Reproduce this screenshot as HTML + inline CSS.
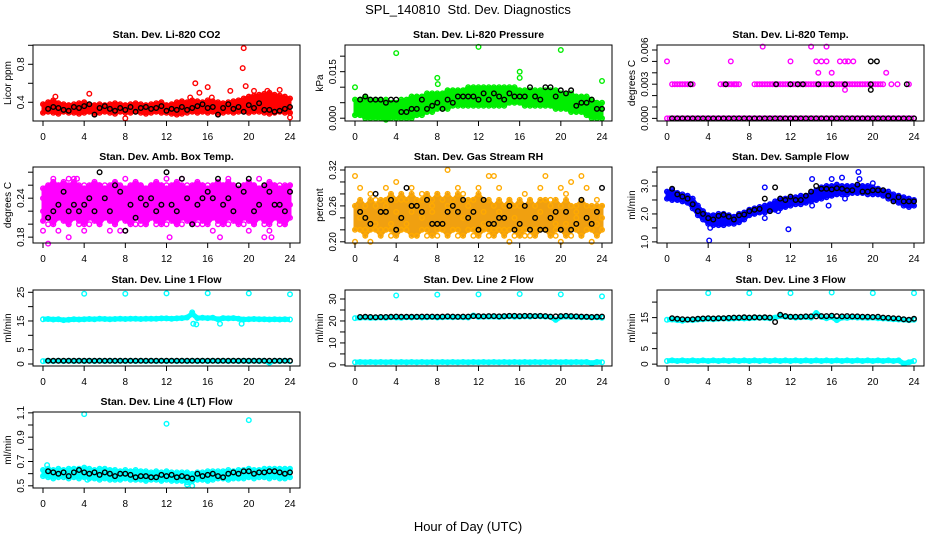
<!DOCTYPE html>
<html><head><meta charset="utf-8"><style>
html,body{margin:0;padding:0;background:#fff;}
svg{display:block;font-family:"Liberation Sans",sans-serif;}
</style></head><body>
<svg id="c" width="936" height="540" viewBox="0 0 936 540">
<rect width="936" height="540" fill="#fff"/>
<text x="468" y="14" font-size="13" text-anchor="middle" style="white-space:pre">SPL_140810  Std. Dev. Diagnostics</text>
<text x="468" y="531" font-size="13" text-anchor="middle">Hour of Day (UTC)</text>
</svg>
<script>
// ---- data (values per half hour / scattered readings) ----
const xTicks=[0,4,8,12,16,20,24];
const co2Lo=[0.29,0.30,0.29,0.28,0.30,0.29,0.29,0.28,0.29,0.30,0.28,0.29,0.30,0.29,0.28,0.30,0.29,0.29,0.30,0.29,0.28,0.29,0.30,0.29,0.29,0.28,0.27,0.28,0.29,0.30,0.29,0.30,0.29,0.30,0.28,0.29,0.30,0.29,0.30,0.30,0.29,0.30,0.30,0.29,0.28,0.29,0.30,0.29,0.29];
const co2Hi=[0.38,0.40,0.42,0.39,0.38,0.37,0.38,0.39,0.40,0.38,0.37,0.38,0.37,0.38,0.39,0.38,0.37,0.38,0.39,0.38,0.37,0.38,0.39,0.40,0.37,0.38,0.40,0.41,0.40,0.42,0.41,0.40,0.42,0.41,0.40,0.39,0.40,0.41,0.42,0.44,0.46,0.47,0.48,0.49,0.50,0.48,0.47,0.46,0.44];
const co2Blk=[0.33,0.35,0.34,0.32,0.31,0.35,0.34,0.36,0.38,0.27,0.34,0.36,0.33,0.31,0.34,0.32,0.35,0.30,0.34,0.35,0.33,0.34,0.36,0.31,0.33,0.32,0.35,0.32,0.34,0.36,0.38,0.34,0.35,0.27,0.34,0.38,0.33,0.35,0.30,0.37,0.34,0.39,0.32,0.32,0.30,0.31,0.33,0.35];
const co2Out=[[19.5,0.97],[19.4,0.76],[19.7,0.57],[4.5,0.49],[14.8,0.60],[16,0.56],[8,0.23],[24,0.24],[23,0.53],[18.2,0.52],[15.2,0.50],[20.5,0.52],[21.8,0.52],[1.2,0.46],[14.3,0.45],[16.4,0.45]];
const prLo=[0.001,0.001,0.000,0.000,0.000,0.000,-0.0005,0.000,0.000,0.000,0.000,0.000,0.001,0.001,0.002,0.002,0.003,0.003,0.003,0.004,0.004,0.004,0.004,0.004,0.004,0.004,0.004,0.004,0.004,0.004,0.005,0.005,0.005,0.004,0.004,0.004,0.004,0.004,0.004,0.003,0.003,0.003,0.002,0.002,0.002,0.001,0.000,0.000,0.000];
const prHi=[0.006,0.006,0.007,0.006,0.006,0.006,0.006,0.005,0.005,0.006,0.006,0.007,0.007,0.007,0.008,0.008,0.008,0.008,0.009,0.009,0.009,0.009,0.010,0.010,0.010,0.010,0.010,0.010,0.010,0.010,0.010,0.010,0.009,0.009,0.009,0.009,0.009,0.009,0.009,0.009,0.008,0.008,0.008,0.007,0.007,0.007,0.006,0.005,0.005];
const prBlk=[0.006,0.007,0.006,0.006,0.006,0.005,0.006,0.006,0.002,0.002,0.003,0.003,0.006,0.003,0.004,0.005,0.003,0.006,0.005,0.007,0.007,0.007,0.007,0.006,0.008,0.006,0.008,0.007,0.006,0.008,0.007,0.007,0.007,0.010,0.007,0.006,0.010,0.010,0.007,0.009,0.008,0.009,0.004,0.005,0.005,0.006,0.003,0.003];
const prOut=[[0,0.010],[4,0.021],[8,0.013],[8.05,0.011],[12,0.023],[16,0.015],[16,0.013],[20,0.022],[24,0.012]];
const tmpLo=[0,0,0,0,0,0,0,0,0,0,0,0,0,0,0,0,0,0,0,0,0,0,0,0,0,0,0,0,0,0,0,0,0,0,0,0,0,0,0,0,0,0,0,0,0,0,0,0,0];
const tmpHi=[null,0.003,0.003,0.003,0.003,0.003,null,null,null,null,null,0.003,0.003,0.003,0.003,null,null,0.003,0.003,0.003,0.003,0.003,0.003,0.003,0.003,0.003,0.003,0.003,0.003,0.003,0.003,0.003,0.003,0.003,0.003,0.003,0.003,0.003,0.003,0.003,0.003,0.003,0.003,null,null,null,null,0.003,null];
const tmpBlk=[0,0,0,0,0,0,0,0,0,0,0,0,0,0,0,0,0,0,0,0,0,0,0,0,0,0,0,0,0,0,0,0,0,0,0,0,0,0,0,0,0,0,0,0,0,0,0,0];
const tmpBlkOut=[[2.3,0.003],[5.7,0.003],[10.6,0.003],[12,0.003],[12.7,0.003],[13.2,0.003],[14.7,0.003],[16,0.003],[17.3,0.003],[19.8,0.003],[23.3,0.003],[19.8,0.0025],[19.8,0.005],[20.4,0.005]];
const tmpOut=[[0,0.005],[6.2,0.005],[9.3,0.0063],[12,0.005],[14,0.0063],[15.5,0.0063],[14.7,0.004],[16,0.004],[14.5,0.005],[15,0.005],[15.5,0.005],[16.8,0.005],[17.3,0.005],[17.6,0.005],[18.1,0.005],[17.3,0.0025],[21.3,0.004],[5.2,0.003],[6.6,0.003],[21.8,0.003],[22.4,0.003]];
const ambLo=[0.205,0.21,0.20,0.21,0.205,0.20,0.21,0.205,0.20,0.21,0.205,0.20,0.21,0.205,0.20,0.21,0.205,0.20,0.21,0.205,0.20,0.21,0.205,0.20,0.21,0.205,0.20,0.21,0.205,0.20,0.21,0.205,0.20,0.21,0.205,0.20,0.21,0.205,0.20,0.21,0.205,0.20,0.21,0.205,0.20,0.21,0.205,0.20,0.21];
const ambHi=[0.255,0.26,0.265,0.26,0.265,0.26,0.265,0.26,0.255,0.26,0.265,0.26,0.255,0.26,0.265,0.26,0.255,0.26,0.265,0.26,0.255,0.26,0.265,0.26,0.255,0.26,0.265,0.26,0.255,0.26,0.265,0.26,0.255,0.26,0.265,0.26,0.265,0.26,0.255,0.26,0.265,0.26,0.255,0.26,0.265,0.26,0.255,0.26,0.26];
const ambA=[0.22,0.25,0.21,0.26,0.23,0.20,0.27,0.24,0.22,0.25,0.21,0.26,0.23,0.19,0.25,0.22,0.27,0.21,0.24,0.26,0.20,0.23,0.25,0.22,0.26,0.21,0.24,0.27,0.22,0.25,0.20,0.23,0.26,0.22,0.24,0.21,0.27,0.23,0.25,0.20,0.24,0.26,0.22,0.25,0.21,0.23,0.26,0.22,0.25];
const ambB=[0.24,0.20,0.26,0.22,0.25,0.24,0.21,0.22,0.26,0.20,0.24,0.23,0.26,0.22,0.20,0.25,0.23,0.25,0.20,0.22,0.24,0.26,0.21,0.24,0.23,0.25,0.20,0.23,0.26,0.21,0.24,0.26,0.21,0.25,0.20,0.24,0.22,0.26,0.21,0.24,0.22,0.20,0.25,0.21,0.24,0.26,0.20,0.24,0.23];
const ambC=[0.19,0.23,0.24,0.19,0.21,0.27,0.23,0.20,0.19,0.23,0.26,0.20,0.22,0.25,0.23,0.19,0.21,0.24,0.26,0.20,0.23,0.21,0.20,0.26,0.20,0.23,0.25,0.20,0.21,0.23,0.26,0.20,0.24,0.19,0.22,0.26,0.20,0.22,0.23,0.26,0.19,0.23,0.27,0.20,0.19,0.22,0.23,0.20,0.26];
const ambBlk=[0.21,0.22,0.23,0.25,0.22,0.23,0.22,0.23,0.24,0.22,0.28,0.24,0.22,0.26,0.25,0.19,0.23,0.21,0.24,0.23,0.24,0.22,0.23,0.28,0.23,0.22,0.27,0.24,0.20,0.23,0.24,0.25,0.24,0.27,0.23,0.24,0.22,0.26,0.25,0.27,0.22,0.23,0.26,0.25,0.23,0.23,0.22,0.25];
const ambOut=[[0.5,0.17],[2.5,0.18],[4,0.21],[12.3,0.18],[17.2,0.18],[22.2,0.18],[21.5,0.18],[8,0.19],[1,0.27],[3.3,0.27],[5.4,0.26],[12,0.27]];
const rhLo=[0.22,0.22,0.21,0.22,0.22,0.21,0.22,0.22,0.21,0.22,0.22,0.21,0.21,0.22,0.22,0.21,0.22,0.22,0.21,0.22,0.22,0.21,0.22,0.22,0.21,0.22,0.22,0.21,0.22,0.21,0.22,0.22,0.21,0.22,0.22,0.21,0.22,0.22,0.21,0.22,0.22,0.21,0.22,0.22,0.21,0.22,0.22,0.21,0.22];
const rhHi=[0.26,0.27,0.26,0.27,0.26,0.27,0.27,0.28,0.27,0.28,0.27,0.28,0.27,0.27,0.28,0.27,0.28,0.27,0.28,0.27,0.28,0.27,0.27,0.27,0.28,0.27,0.27,0.26,0.27,0.26,0.27,0.26,0.27,0.26,0.27,0.26,0.27,0.27,0.26,0.27,0.26,0.27,0.26,0.26,0.27,0.26,0.26,0.26,0.26];
const rhA=[0.31,0.29,0.22,0.28,0.27,0.25,0.29,0.23,0.30,0.27,0.22,0.29,0.26,0.28,0.21,0.26,0.28,0.23,0.32,0.26,0.29,0.28,0.22,0.27,0.29,0.23,0.31,0.31,0.29,0.24,0.27,0.21,0.22,0.28,0.27,0.24,0.29,0.31,0.27,0.23,0.29,0.28,0.30,0.24,0.31,0.29,0.23,0.27,0.26];
const rhB=[0.20,0.24,0.26,0.20,0.23,0.22,0.26,0.21,0.25,0.22,0.23,0.25,0.21,0.24,0.22,0.25,0.21,0.23,0.26,0.22,0.21,0.24,0.26,0.21,0.22,0.25,0.21,0.22,0.25,0.22,0.20,0.24,0.26,0.21,0.21,0.22,0.25,0.22,0.24,0.21,0.20,0.23,0.21,0.25,0.21,0.22,0.20,0.23,0.24];
const rhBlk=[0.25,0.24,0.23,0.28,0.25,0.25,0.27,0.22,0.24,0.29,0.26,0.26,0.25,0.27,0.23,0.23,0.23,0.25,0.26,0.25,0.27,0.24,0.25,0.22,0.27,0.23,0.23,0.24,0.24,0.26,0.22,0.23,0.26,0.22,0.24,0.22,0.22,0.24,0.25,0.22,0.25,0.22,0.23,0.27,0.24,0.23,0.25,0.29];
const flLo=[2.55,2.50,2.50,2.45,2.40,2.20,1.95,1.80,1.65,1.60,1.60,1.60,1.65,1.65,1.70,1.80,1.95,2.00,2.05,2.05,2.10,2.15,2.20,2.25,2.30,2.35,2.35,2.40,2.45,2.50,2.55,2.60,2.65,2.70,2.70,2.70,2.75,2.75,2.75,2.70,2.70,2.70,2.65,2.55,2.50,2.40,2.30,2.25,2.30];
const flHi=[2.80,2.85,2.75,2.70,2.65,2.55,2.30,2.10,1.95,1.95,2.00,2.00,1.95,1.90,2.00,2.05,2.15,2.20,2.25,2.30,2.35,2.45,2.55,2.55,2.60,2.60,2.65,2.65,2.75,2.85,2.95,3.00,3.00,3.05,3.00,3.00,3.00,3.00,3.00,3.00,2.95,2.90,2.85,2.80,2.70,2.65,2.60,2.55,2.50];
const flBlk=[2.90,2.70,2.62,2.55,2.35,2.10,2.00,1.85,1.80,1.93,1.97,1.90,1.80,1.95,1.98,2.10,2.15,2.18,2.55,2.10,2.95,2.55,2.50,2.62,2.50,2.50,2.65,2.80,3.00,2.90,2.90,2.88,2.92,2.90,2.85,2.85,3.05,2.80,2.80,2.85,2.85,2.85,2.65,2.45,2.60,2.45,2.45,2.45];
const flOut=[[4.1,1.05],[4.2,1.5],[11.8,1.45],[9.5,1.85],[9.5,2.95],[14.1,3.25],[16,3.25],[17,3.3],[18.6,3.5],[18.7,3.25],[15.7,2.3],[14.1,2.3],[20,3.1],[17.3,2.55],[10.8,2.1]];
const l1Band=[15.6,15.7,15.5,15.6,15.3,15.4,15.6,15.5,15.6,15.7,15.6,15.8,15.7,15.6,15.7,15.8,15.7,15.8,15.8,15.7,15.8,15.8,15.8,15.9,15.9,15.8,15.9,16.0,16.2,17.5,16.0,16.1,16.0,16.1,15.6,16.0,15.9,16.0,15.8,15.5,15.6,15.7,15.6,15.6,15.5,15.6,15.5,15.6,15.5];
const l1Low=[1.0,1.1,1.0,1.1,1.0,1.1,1.0,1.1,1.0,1.1,1.0,1.1,1.0,1.1,1.0,1.1,1.0,1.1,1.0,1.1,1.0,1.1,1.0,1.1,1.0,1.1,1.0,1.1,1.0,1.1,1.0,1.1,1.0,1.1,1.0,1.1,1.0,1.1,1.0,1.1,1.0,1.1,1.0,1.1,0.5,1.1,1.0,1.1,1.0];
const l1Blk=[1.1,1.1,1.1,1.1,1.1,1.1,1.1,1.1,1.1,1.1,1.1,1.1,1.1,1.1,1.1,1.1,1.1,1.1,1.1,1.1,1.1,1.1,1.1,1.1,1.1,1.1,1.1,1.1,1.1,1.1,1.1,1.1,1.1,1.1,1.1,1.1,1.1,1.1,1.1,1.1,1.1,1.1,1.1,1.1,1.1,1.1,1.1,1.1];
const l1Out=[[4,24.5],[8,24.5],[12,24.6],[16,24.7],[20,24.6],[24,24.3],[14.5,18],[14.6,14],[14.9,13.8],[17.2,14],[19.3,14]];
const l2Band=[21.3,21.5,21.6,21.4,21.5,21.6,21.5,21.7,21.6,21.5,21.7,21.6,21.8,21.6,21.7,21.8,21.6,21.7,21.8,21.7,21.8,21.7,21.6,22.5,21.8,22.0,21.9,22.0,21.8,22.0,22.1,21.9,22.0,22.1,22.0,22.2,22.1,22.0,21.9,20.5,21.8,22.0,21.8,21.9,21.7,21.8,21.6,21.7,21.5];
const l2Low=[1.2,1.3,1.2,1.3,1.2,1.3,1.2,1.3,1.2,1.3,1.2,1.3,1.2,1.3,1.2,1.3,1.2,1.3,1.2,1.3,1.2,1.3,1.2,1.3,1.2,1.3,1.2,1.3,1.2,1.3,1.2,1.3,1.2,1.3,1.2,1.3,1.2,1.3,1.2,1.3,1.2,1.3,1.2,1.3,1.2,1.3,0.8,1.3,1.2];
const l2Blk=[21.8,21.9,21.8,21.7,21.8,21.8,21.9,22.0,21.9,21.9,21.9,21.9,22.0,22.0,22.0,21.9,22.0,22.1,22.0,21.9,22.0,22.0,22.2,22.2,22.1,22.2,22.2,22.1,22.2,22.3,22.3,22.2,22.3,22.3,22.2,22.3,22.2,22.0,22.1,22.2,22.3,22.2,22.1,22.0,21.9,21.8,21.9,22.0];
const l2Out=[[4,31.6],[8,32.0],[12,32.1],[16,32.3],[20,32.1],[24,31.2]];
const l3Band=[14.3,14.4,14.2,14.0,14.3,14.2,14.4,14.5,14.6,14.5,14.6,14.7,14.6,14.7,14.8,14.7,14.8,14.9,15.0,14.9,14.8,15.0,15.5,15.3,15.2,15.0,15.1,15.2,15.0,16.5,15.2,14.8,15.2,14.2,15.0,14.9,15.1,15.0,15.0,14.9,15.0,14.8,14.7,14.6,14.5,14.4,14.3,14.2,14.3];
const l3Low=[1.0,1.2,1.0,1.2,1.0,1.2,1.0,1.2,1.0,1.2,1.0,1.2,1.0,1.2,1.0,1.2,1.0,1.2,1.0,1.2,1.0,1.2,1.0,1.2,1.0,1.2,1.0,1.2,1.0,1.2,1.0,1.2,1.0,1.2,1.0,1.2,1.0,1.2,1.0,1.2,1.0,1.2,1.0,1.2,1.0,1.2,0.2,0.6,1.0];
const l3Blk=[14.8,14.6,14.5,14.4,14.5,14.6,14.7,14.8,14.7,14.8,14.8,14.9,15.0,15.0,15.1,15.0,15.1,15.0,15.1,15.0,13.6,15.9,15.5,15.3,15.3,15.3,15.4,15.4,15.4,15.5,15.5,15.6,15.5,15.4,15.5,15.4,15.4,15.3,15.3,15.2,15.3,15.0,14.9,14.8,14.7,14.5,14.3,14.6];
const l3Out=[[4,22.9],[8,22.9],[12,22.9],[16,23.1],[20,22.9],[24,22.9]];
const l4Lo=[0.58,0.57,0.56,0.57,0.57,0.56,0.57,0.56,0.57,0.56,0.56,0.55,0.56,0.55,0.55,0.55,0.56,0.55,0.55,0.55,0.54,0.55,0.55,0.54,0.55,0.54,0.54,0.54,0.53,0.54,0.55,0.55,0.54,0.55,0.56,0.56,0.55,0.56,0.56,0.56,0.57,0.56,0.57,0.57,0.56,0.57,0.56,0.56,0.57];
const l4Hi=[0.63,0.64,0.63,0.64,0.63,0.64,0.64,0.64,0.65,0.64,0.63,0.64,0.64,0.63,0.63,0.62,0.63,0.62,0.63,0.62,0.62,0.61,0.62,0.61,0.62,0.61,0.61,0.61,0.61,0.60,0.61,0.61,0.62,0.62,0.62,0.62,0.63,0.62,0.63,0.63,0.64,0.63,0.63,0.64,0.64,0.64,0.64,0.64,0.64];
const l4Blk=[0.62,0.61,0.60,0.61,0.58,0.61,0.63,0.61,0.60,0.61,0.59,0.61,0.60,0.58,0.60,0.60,0.59,0.57,0.58,0.58,0.57,0.57,0.59,0.58,0.59,0.57,0.58,0.57,0.56,0.60,0.58,0.59,0.60,0.58,0.57,0.60,0.61,0.60,0.62,0.62,0.60,0.61,0.61,0.62,0.62,0.61,0.60,0.61];
const l4Out=[[4,1.09],[12,1.01],[20,1.04],[0.4,0.67],[14,0.51],[14.5,0.50],[4.3,0.55]];

// ---- layout ----
const NS='http://www.w3.org/2000/svg';
const svg=document.getElementById('c');
const colL=[33,345,657], rowT=[45,167,290,412], W=267, H=76;
function el(tag,attrs,parent){const e=document.createElementNS(NS,tag);for(const k in attrs)e.setAttribute(k,attrs[k]);(parent||svg).appendChild(e);return e;}

const panels=[
 {c:0,r:0,name:'co2',title:'Stan. Dev. Li-820 CO2',ylab:'Licor ppm',ymin:0.203,ymax:1.003,ticks:[0.4,0.6,0.8,1.0],labels:[0.4,0.8],fmt:1,col:'#ff0000',band:[co2Lo,co2Hi],extra:[],blk:co2Blk,out:co2Out},
 {c:1,r:0,name:'pressure',title:'Stan. Dev. Li-820 Pressure',ylab:'kPa',ymin:-0.0009,ymax:0.0236,ticks:[0,0.005,0.010,0.015,0.020],labels:[0,0.015],fmt:3,col:'#00ee00',band:[prLo,prHi],extra:[],blk:prBlk,out:prOut},
 {c:2,r:0,name:'li820-temp',title:'Stan. Dev. Li-820 Temp.',ylab:'degrees C',ymin:-0.00023,ymax:0.00644,ticks:[0,0.001,0.002,0.003,0.004,0.005,0.006],labels:[0,0.003,0.006],fmt:3,col:'#ff00ff',band:null,extra:[tmpLo,tmpHi],blk:tmpBlk,out:tmpOut,blkOut:tmpBlkOut},
 {c:0,r:1,name:'amb-box-temp',title:'Stan. Dev. Amb. Box Temp.',ylab:'degrees C',ymin:0.171,ymax:0.288,ticks:[0.18,0.20,0.22,0.24,0.26,0.28],labels:[0.18,0.24],fmt:2,col:'#ff00ff',band:[ambLo,ambHi],extra:[ambA,ambB,ambC],blk:ambBlk,out:ambOut},
 {c:1,r:1,name:'gas-stream-rh',title:'Stan. Dev. Gas Stream RH',ylab:'percent',ymin:0.198,ymax:0.325,ticks:[0.20,0.22,0.24,0.26,0.28,0.30,0.32],labels:[0.20,0.26,0.32],fmt:2,col:'#ffaa00',bandCol:'#f0a010',band:[rhLo,rhHi],extra:[rhA,rhB],blk:rhBlk,out:[]},
 {c:2,r:1,name:'sample-flow',title:'Stan. Dev. Sample Flow',ylab:'ml/min',ymin:0.96,ymax:3.68,ticks:[1.0,1.5,2.0,2.5,3.0,3.5],labels:[1.0,2.0,3.0],fmt:1,col:'#0000ff',band:[flLo,flHi],extra:[],blk:flBlk,out:flOut},
 {c:0,r:2,name:'line1-flow',title:'Stan. Dev. Line 1 Flow',ylab:'ml/min',ymin:-0.7,ymax:25.8,ticks:[0,5,10,15,20,25],labels:[0,5,15,25],fmt:0,col:'#00ffff',band:null,thick:[l1Band,l1Low],extra:[],blk:l1Blk,out:l1Out},
 {c:1,r:2,name:'line2-flow',title:'Stan. Dev. Line 2 Flow',ylab:'ml/min',ymin:-0.5,ymax:34.1,ticks:[0,5,10,15,20,25,30],labels:[0,10,20,30],fmt:0,col:'#00ffff',band:null,thick:[l2Band,l2Low],extra:[],blk:l2Blk,out:l2Out},
 {c:2,r:2,name:'line3-flow',title:'Stan. Dev. Line 3 Flow',ylab:'ml/min',ymin:-0.6,ymax:23.9,ticks:[0,5,10,15,20],labels:[0,5,15],fmt:0,col:'#00ffff',band:null,thick:[l3Band,l3Low],extra:[],blk:l3Blk,out:l3Out},
 {c:0,r:3,name:'line4-flow',title:'Stan. Dev. Line 4 (LT) Flow',ylab:'ml/min',ymin:0.482,ymax:1.107,ticks:[0.5,0.6,0.7,0.8,0.9,1.0,1.1],labels:[0.5,0.7,0.9,1.1],fmt:1,col:'#00ffff',band:[l4Lo,l4Hi],extra:[],blk:l4Blk,out:l4Out}
];

function circ(g,x,y,col,name){
  const e=el('circle',{cx:x.toFixed(1),cy:y.toFixed(1),r:2.3,fill:'none',stroke:col,'stroke-width':1.4},g);
  
  
}

panels.forEach(p=>{
  const L=colL[p.c], T=rowT[p.r], B=T+H;
  const x0=L+10, x1=L+257;
  const X=h=>x0+(x1-x0)*h/24;
  const Y=v=>B-(v-p.ymin)/(p.ymax-p.ymin)*H;
  const g=el('g',{});
  
  
  const t=el('text',{x:(L+W/2),y:T-7,'font-size':10.5,'font-weight':'bold','text-anchor':'middle'},g);
  t.textContent=p.title;
  
  
  const marks=el('g',{},g);
  
  
  if(p.band){
    const [lo,hi]=p.band, n=lo.length;
    let pts=[];
    hi.forEach((v,i)=>pts.push(X(24*i/(n-1)).toFixed(1)+','+Y(v).toFixed(1)));
    for(let i=n-1;i>=0;i--)pts.push(X(24*i/(n-1)).toFixed(1)+','+Y(lo[i]).toFixed(1));
    const pg=el('polygon',{points:pts.join(' '),fill:p.bandCol||p.col,stroke:p.bandCol||p.col,'stroke-width':3},marks);
    
    
    [lo,hi].forEach(a=>a.forEach((v,i)=>circ(marks,X(24*i/(n-1)),Y(v),p.col,p.name+'-point')));
  }
  if(p.thick){
    p.thick.forEach(a=>{const n=a.length;
      let pts=a.map((v,i)=>X(24*i/(n-1)).toFixed(1)+','+Y(v).toFixed(1)).join(' ');
      const pl=el('polyline',{points:pts,fill:'none',stroke:p.col,'stroke-width':5,'stroke-linejoin':'round'},marks);
      
      
      a.forEach((v,i)=>circ(marks,X(24*i/(n-1)),Y(v),p.col,p.name+'-point'));});
  }
  p.extra.forEach(a=>{const n=a.length;a.forEach((v,i)=>{if(v!==null)circ(marks,X(24*i/(n-1)),Y(v),p.col,p.name+'-point');});
    if(p.name==='li820-temp'){a.forEach((v,i)=>{if(v!==null&&i<n-1&&a[i+1]!==null)circ(marks,X(24*(i+0.5)/(n-1)),Y(v),p.col,p.name+'-point');});}
  });
  p.out.forEach(o=>circ(marks,X(o[0]),Y(o[1]),p.col,p.name+'-outlier'));
  const nb=p.blk.length;
  p.blk.forEach((v,i)=>circ(marks,X(0.5+23.5*i/(nb-1)),Y(v),'#000',p.name+'-black-point'));
  (p.blkOut||[]).forEach(o=>circ(marks,X(o[0]),Y(o[1]),'#000',p.name+'-black-point'));
  const bx=el('rect',{x:L,y:T,width:W,height:H,fill:'none',stroke:'#000','stroke-width':1},g);
  
  
  const xa=el('g',{},g);
  
  
  el('line',{x1:X(0),x2:X(24),y1:B,y2:B,stroke:'#000'},xa);
  xTicks.forEach(h=>{
    el('line',{x1:X(h),x2:X(h),y1:B,y2:B+5,stroke:'#000'},xa);
    const tl=el('text',{x:X(h),y:B+19,'font-size':10,'text-anchor':'middle'},xa);
    tl.textContent=h;
    
    
  });
  const ya=el('g',{},g);
  
  
  const tv=p.ticks.filter(v=>Y(v)>=T-0.5&&Y(v)<=B+0.5);
  el('line',{x1:L,x2:L,y1:Y(tv[0]),y2:Y(tv[tv.length-1]),stroke:'#000'},ya);
  tv.forEach(v=>el('line',{x1:L-5,x2:L,y1:Y(v),y2:Y(v),stroke:'#000'},ya));
  p.labels.forEach(v=>{
    const yy=Y(v), xx=L-9;
    const tl=el('text',{x:xx,y:yy,'font-size':10,'text-anchor':'middle',transform:'rotate(-90 '+xx+' '+yy.toFixed(1)+')'},ya);
    tl.textContent=v.toFixed(p.fmt);
    
    
  });
  const yl=L-22, ym=T+H/2;
  const lab=el('text',{x:yl,y:ym,'font-size':10,'text-anchor':'middle',transform:'rotate(-90 '+yl+' '+ym+')'},g);
  lab.textContent=p.ylab;
  
  
});
</script>
</body></html>
